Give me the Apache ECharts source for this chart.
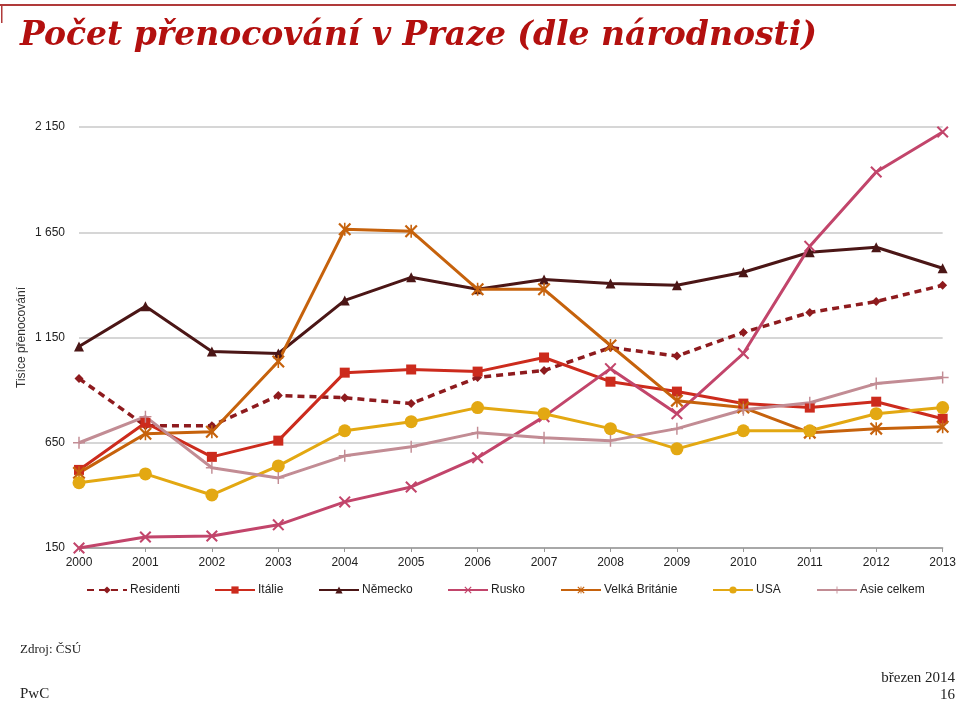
<!DOCTYPE html>
<html><head><meta charset="utf-8">
<script src="https://cdn.jsdelivr.net/npm/echarts@6/dist/echarts.min.js"></script>
<style>html,body{margin:0;padding:0;background:#fff}#c{width:959px;height:702px}</style>
</head><body><div id="c"></div>
<script>
const years = ['2000','2001','2002','2003','2004','2005','2006','2007','2008','2009','2010','2011','2012','2013'];
const residenti = [955, 731, 731, 874, 864, 836, 960, 993, 1102, 1062, 1174, 1269, 1321, 1398];
const italie    = [521, 745, 583, 660, 983, 998, 988, 1055, 940, 893, 836, 817, 845, 764];
const nemecko   = [1107, 1298, 1083, 1074, 1326, 1436, 1379, 1426, 1407, 1398, 1460, 1555, 1579, 1479];
const rusko     = [150, 202, 207, 260, 369, 440, 579, 774, 1002, 788, 1074, 1583, 1936, 2126];
const britanie  = [507, 693, 702, 1036, 1664, 1655, 1379, 1379, 1112, 850, 817, 698, 717, 726];
const usa       = [460, 502, 402, 540, 707, 750, 817, 788, 717, 621, 707, 707, 788, 817];
const asie      = [650, 774, 531, 483, 588, 631, 698, 674, 660, 717, 807, 840, 931, 960];
const yTicks = [150, 650, 1150, 1650, 2150];

const X = 'path://M0,1.2L1.2,0L5,3.8L8.8,0L10,1.2L6.2,5L10,8.8L8.8,10L5,6.2L1.2,10L0,8.8L3.8,5Z';
const AST = 'path://M0,1.2L1.2,0L5,3.8L8.8,0L10,1.2L6.2,5L10,8.8L8.8,10L5,6.2L1.2,10L0,8.8L3.8,5Z M4.4,0H5.6V10H4.4Z';
const PLUS = 'path://M4.4,0H5.6V4.4H10V5.6H5.6V10H4.4V5.6H0V4.4H4.4Z';

function mk(name, data, color, symbol, size, dashed) {
  return {
    name, type: 'line', data, symbol, symbolSize: size,
    lineStyle: { color, width: dashed ? 3.5 : 3, type: dashed ? [7, 5] : 'solid' },
    itemStyle: { color },
    emphasis: { disabled: true }, animation: false, z: 3
  };
}
const series = [
  mk('Residenti', residenti, '#8e1b1e', 'diamond', 9, true),
  mk('Itálie', italie, '#cc2b1d', 'rect', 10, false),
  mk('Německo', nemecko, '#4b1616', 'triangle', 10, false),
  mk('Rusko', rusko, '#c2456b', X, 12, false),
  mk('Velká Británie', britanie, '#c6620c', AST, 13, false),
  mk('USA', usa, '#e3a812', 'circle', 13, false),
  mk('Asie celkem', asie, '#c28c94', PLUS, 12, false)
];
const legendLeft = [86, 214, 318, 447, 560, 712, 816];
const legends = series.map((s, i) => ({
  data: [s.name], left: legendLeft[i], top: 584, padding: 0, itemWidth: 40, itemHeight: 9, itemGap: 0,
  textStyle: { fontFamily: 'Liberation Sans', fontSize: 12, color: '#222', padding: [0, 0, 0, -2] },
  selectedMode: false
}));

const chart = echarts.init(document.getElementById('c'), null, { renderer: 'canvas' });
chart.setOption({
  backgroundColor: '#fff',
  animation: false,
  grid: { left: 79, right: 15, top: 127, bottom: 154, containLabel: false },
  xAxis: {
    type: 'category', data: years, boundaryGap: false,
    axisLine: { lineStyle: { color: '#999', width: 1.5 } },
    axisTick: { show: true, length: 4, lineStyle: { color: '#999' } },
    axisLabel: { fontFamily: 'Liberation Sans', fontSize: 12, color: '#222', margin: 9 }
  },
  yAxis: {
    type: 'value', min: 150, max: 2150, interval: 500,
    axisLine: { show: false }, axisTick: { show: false },
    splitLine: { lineStyle: { color: '#c8c8c8', width: 1.5 } },
    axisLabel: { fontFamily: 'Liberation Sans', fontSize: 12, color: '#222', margin: 14,
      formatter: v => String(v).replace(/\B(?=(\d{3})+(?!\d))/g, ' ') },
    name: 'Tisíce přenocování', nameLocation: 'middle', nameGap: 51, nameMoveOverlap: false,
    nameTextStyle: { fontFamily: 'Liberation Sans', fontSize: 12, color: '#333' }
  },
  legend: legends,
  series,
  graphic: [
    { type: 'rect', shape: { x: 0, y: 4, width: 956, height: 2 }, style: { fill: '#b03a3a' } },
    { type: 'rect', shape: { x: 1, y: 4, width: 1.5, height: 19 }, style: { fill: '#b03a3a' } },
    { type: 'text', left: 20, top: 20, style: { text: 'Počet přenocování v Praze (dle národnosti)',
      fill: '#b3100f', font: 'italic bold 33px "DejaVu Serif"' } },
    { type: 'text', left: 20, top: 643, style: { text: 'Zdroj: ČSÚ', fill: '#222', font: '13px "Liberation Serif"' } },
    { type: 'text', left: 20, top: 687, style: { text: 'PwC', fill: '#222', font: '15px "Liberation Serif"' } },
    { type: 'text', right: 4, top: 671, style: { text: 'březen 2014', fill: '#222', font: '15px "Liberation Serif"', align: 'right' } },
    { type: 'text', right: 4, top: 688, style: { text: '16', fill: '#222', font: '15px "Liberation Serif"', align: 'right' } }
  ]
});
</script></body></html>
